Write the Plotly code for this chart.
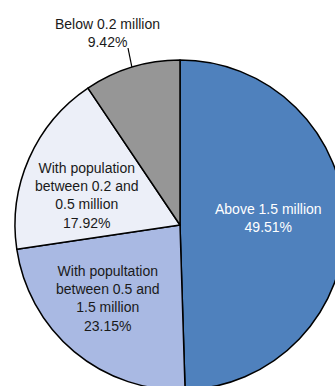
import math
import plotly.graph_objects as go

# ---- data ----
categories = [
    "Above 1.5 million",
    "With popultation between 0.5 and 1.5 million",
    "With population between 0.2 and 0.5 million",
    "Below 0.2 million",
]
label_lines = [
    ["Above 1.5 million"],
    ["With popultation", "between 0.5 and", "1.5 million"],
    ["With population", "between 0.2 and", "0.5 million"],
    ["Below 0.2 million"],
]
shares = [49.51, 23.15, 17.92, 9.42]
colors = ["#4f81bd", "#a9b9e3", "#eceff8", "#969696"]
text_colors = ["white", "#1a1a1a", "#1a1a1a", "#1a1a1a"]

# ---- layout geometry (pixels) ----
W, H = 360, 400
L, T, S = 15, 60, 330          # plot area left, top, size (square)
B = H - T - S
R = W - L - S

def px(x):
    return (x - L) / S

def py(y):
    return 1 - (y - T) / S

# label centres (pixels)
label_pos = [(268, 218), (108, 298), (87, 195), (107, 33)]

fig = go.Figure(
    go.Pie(
        labels=categories,
        values=shares,
        sort=False,
        direction="clockwise",
        rotation=0,
        marker=dict(colors=colors, line=dict(color="black", width=1.5)),
        textinfo="none",
        hoverinfo="label+percent",
        showlegend=False,
        domain=dict(x=[0, 1], y=[0, 1]),
    )
)

annotations = []
for i, (lines, v) in enumerate(zip(label_lines, shares)):
    txt = "<br>".join(lines + [f"{v:.2f}%"])
    x, y = label_pos[i]
    annotations.append(
        dict(
            x=px(x), y=py(y), xref="paper", yref="paper",
            text=txt, showarrow=False,
            xanchor="center", yanchor="middle",
            font=dict(family="Liberation Sans, Arial, sans-serif", size=14,
                      color=text_colors[i]),
        )
    )

# leader line for the small slice, tip at slice mid-angle on the rim
total = sum(shares)
start = sum(shares[:3]) / total
mid = (start + 1.0) / 2
theta = 2 * math.pi * mid
tip_x = 0.5 + 0.5 * math.sin(theta)
tip_y = 0.5 + 0.5 * math.cos(theta)

fig.update_layout(
    width=W, height=H,
    margin=dict(l=L, r=R, t=T, b=B, pad=0, autoexpand=False),
    paper_bgcolor="white",
    plot_bgcolor="white",
    annotations=annotations,
    shapes=[dict(type="line", xref="paper", yref="paper",
                 x0=px(128), y0=py(48), x1=tip_x, y1=tip_y,
                 line=dict(color="black", width=1.2))],
)

fig.write_html(
    "out.html",
    post_script=(
        "document.documentElement.style.overflow='hidden';"
        "document.body.style.overflow='hidden';"
        "document.body.style.margin='0';"
    ),
)
